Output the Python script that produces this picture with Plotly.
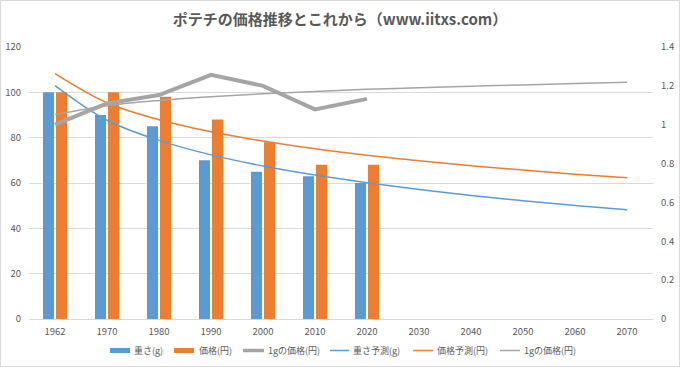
import plotly.graph_objects as go

years = ["1962", "1970", "1980", "1990", "2000", "2010", "2020",
         "2030", "2040", "2050", "2060", "2070"]
weight_g = [100, 90, 85, 70, 65, 63, 60]
price_yen = [100, 100, 98, 88, 78, 68, 68]
price_per_g = [1.0, 1.11, 1.153, 1.257, 1.2, 1.079, 1.133]
weight_trend = [103.0, 87.7, 78.8, 72.4, 67.5, 63.5, 60.1, 57.1, 54.5, 52.2, 50.1, 48.2]
price_trend = [108.3, 95.4, 87.9, 82.6, 78.5, 75.1, 72.2, 69.8, 67.6, 65.7, 63.9, 62.3]
per_g_trend = [1.052, 1.098, 1.125, 1.144, 1.159, 1.171, 1.182, 1.190, 1.198, 1.205, 1.212, 1.218]
legend_names = ["重さ(g)", "価格(円)", "1gの価格(円)", "重さ予測(g)", "価格予測(円)", "1gの価格(円)"]

BLUE = "#5B9BD5"
ORANGE = "#ED7D31"
GRAY = "#A5A5A5"
TXT = "#595959"
FONT = "Noto Sans CJK JP"

n = len(weight_g)
fig = go.Figure()
fig.add_trace(go.Bar(x=years[:n], y=weight_g, name=legend_names[0], marker_color=BLUE,
                     marker_line_width=0))
fig.add_trace(go.Bar(x=years[:n], y=price_yen, name=legend_names[1], marker_color=ORANGE,
                     marker_line_width=0))
fig.add_trace(go.Scatter(x=years[:n], y=price_per_g, name=legend_names[2], yaxis="y2",
                         mode="lines", line=dict(color=GRAY, width=4)))
fig.add_trace(go.Scatter(x=years, y=weight_trend, name=legend_names[3], mode="lines",
                         line=dict(color=BLUE, width=1.5, shape="spline")))
fig.add_trace(go.Scatter(x=years, y=price_trend, name=legend_names[4], mode="lines",
                         line=dict(color=ORANGE, width=1.5, shape="spline")))
fig.add_trace(go.Scatter(x=years, y=per_g_trend, name=legend_names[5], yaxis="y2",
                         mode="lines", line=dict(color=GRAY, width=1.5, shape="spline")))

L, R, T, B = 29, 27, 47, 48
W, H = 680, 367
pw, ph = W - L - R, H - T - B


def px(x):
    return (x - L) / pw


def py(y):
    return (H - B - y) / ph


shapes = [dict(type="rect", xref="paper", yref="paper",
               x0=px(0.5), x1=px(W - 0.5), y0=py(H - 0.5), y1=py(0.5),
               line=dict(color="#D9D9D9", width=1), layer="below")]
annotations = []

# manual legend (symbol start, symbol end, text start) in pixels
leg_y = 350.5
leg_items = [
    (110, 130, 132, "bar", BLUE),
    (174, 194, 197, "bar", ORANGE),
    (243, 264, 266, "line4", GRAY),
    (330, 349, 351, "line", BLUE),
    (413, 433, 435, "line", ORANGE),
    (500, 520, 522, "line", GRAY),
]
for (s0, s1, t0, kind, col), name in zip(leg_items, legend_names):
    if kind == "bar":
        shapes.append(dict(type="rect", xref="paper", yref="paper",
                           x0=px(s0), x1=px(s1), y0=py(leg_y + 2.5), y1=py(leg_y - 2.5),
                           fillcolor=col, line=dict(width=0)))
    else:
        shapes.append(dict(type="line", xref="paper", yref="paper",
                           x0=px(s0), x1=px(s1), y0=py(leg_y), y1=py(leg_y),
                           line=dict(color=col, width=3.5 if kind == "line4" else 1.5)))
    annotations.append(dict(text=name, xref="paper", yref="paper", x=px(t0), y=py(leg_y),
                            xanchor="left", yanchor="middle", showarrow=False,
                            font=dict(size=9, color=TXT, family=FONT)))

fig.update_layout(
    width=W, height=H,
    margin=dict(l=L, r=R, t=T, b=B, autoexpand=False),
    paper_bgcolor="white", plot_bgcolor="white",
    font=dict(family=FONT, color=TXT, size=10),
    title=dict(text="<b>ポテチの価格推移とこれから（www.iitxs.com）</b>",
               x=0.5, xanchor="center", y=1 - 20 / H, yanchor="middle",
               font=dict(size=15, color=TXT, family=FONT)),
    barmode="group", bargap=0.5, bargroupgap=0.15,
    xaxis=dict(type="category", categoryorder="array", categoryarray=years,
               range=[-0.5, len(years) - 0.5], automargin=False,
               showgrid=False, showline=True, linecolor="#D9D9D9", linewidth=1,
               ticks="", ticklabelstandoff=4, tickfont=dict(size=9.5, color=TXT)),
    yaxis=dict(range=[0, 120], dtick=20, showgrid=True, gridcolor="#D9D9D9",
               gridwidth=1, zeroline=False, showline=False, ticks="", automargin=False,
               ticklabelstandoff=7, tickfont=dict(size=9.5, color=TXT)),
    yaxis2=dict(range=[0, 1.4], dtick=0.2, overlaying="y", side="right",
                showgrid=False, zeroline=False, showline=False, ticks="", automargin=False,
                ticklabelstandoff=7, tickfont=dict(size=9.5, color=TXT)),
    showlegend=False,
    shapes=shapes,
    annotations=annotations,
)

fig.write_html("out.html", config={"displayModeBar": False},
               post_script="document.body.style.margin='0';document.body.style.padding='0';"
                           "document.body.style.overflow='hidden';")
